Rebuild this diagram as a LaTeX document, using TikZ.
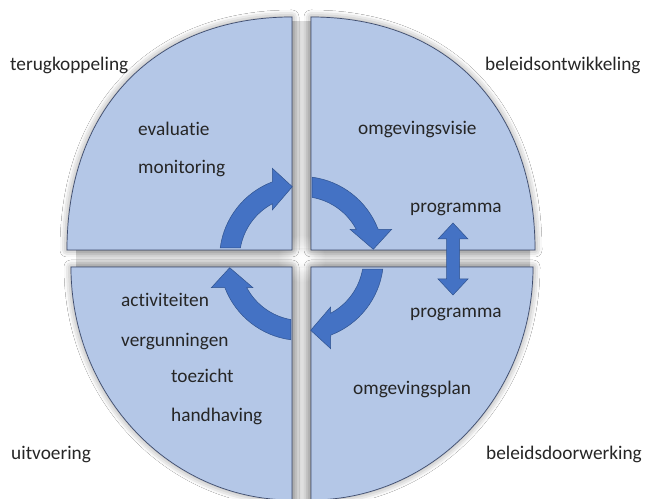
\documentclass[tikz,border=0pt]{standalone}
\usepackage{fontspec}
\setmainfont{Carlito}[Ligatures=NoCommon]
\usetikzlibrary{shadows.blur,fadings}
\tikzfading[name=glowfade, inner color=transparent!0, outer color=transparent!100]
\definecolor{quadfill}{HTML}{B4C7E7}
\definecolor{quadedge}{HTML}{3E4C6E}
\definecolor{arrfill}{HTML}{4472C4}
\definecolor{arredge}{HTML}{2F528F}
\definecolor{txt}{HTML}{262626}
\definecolor{gapdark}{HTML}{C6C6C6}
\definecolor{gaplight}{HTML}{E0E0E0}
\begin{document}
\begin{tikzpicture}[x=1pt,y=1pt,
 quad/.style={fill=quadfill, draw=quadedge, line width=0.7pt,
   blur shadow={shadow xshift=0pt, shadow yshift=0pt, shadow blur radius=7pt, shadow opacity=45}},
 cyc/.style={fill=arrfill, draw=arredge, line width=0.5pt},
 lbl/.style={anchor=base west, inner sep=0pt, text=txt, font=\fontsize{19.3}{23}\selectfont}]
\useasboundingbox (0,0) rectangle (645,498);
\fill[white] (0,0) rectangle (645,498);
% gaps between the quadrants
\shade[left color=gapdark, right color=gapdark, middle color=gaplight] (291,-5) rectangle (312,476);
\shade[top color=gapdark, bottom color=gapdark, middle color=gaplight] (76,230) rectangle (530,249);
\fill[white, path fading=glowfade] (301.5,239.5) circle (24pt);
\fill[white, path fading=glowfade] (301.5,239.5) circle (14pt);
% quadrants
\path[quad] (292,248) -- (292,481) .. controls (155,481) and (67,390) .. (67,248) -- cycle;
\path[quad] (311,248) -- (535,248) .. controls (535,390) and (448,481) .. (311,481) -- cycle;
\path[quad] (292,231) -- (71,231) arc[start angle=180,end angle=270,x radius=221pt,y radius=233pt] -- cycle;
\path[quad] (311,231) -- (311,-2) arc[start angle=270,end angle=360,x radius=222pt,y radius=233pt] -- cycle;
% cycle arrows
\coordinate (ctr) at (301.5,239.5);
\foreach \r in {0,-90,-180,-270}{
 \begin{scope}[shift={(ctr)}, rotate=\r]
  \path[cyc] (82.6:82) arc[start angle=82.6, end angle=20.9, radius=82pt]
    -- (90.2,29.2) -- (71.8,9.2) -- (48.5,29.2) -- (28.1:62)
    arc[start angle=28.1, end angle=80.2, radius=62pt] -- cycle;
 \end{scope}
}
% double arrow
\path[cyc] (453,275) -- (468,259) -- (459.5,259) -- (459.5,219) -- (468,219) -- (453,203)
  -- (438,219) -- (446.5,219) -- (446.5,259) -- (438,259) -- cycle;
% labels
\node[lbl] (terug) at (10,427.5) {terugkoppeling};
\node[lbl] (beleidsontw) at (485,427.5) {beleidsontwikkeling};
\node[lbl] (uitv) at (11,38.5) {uitvoering};
\node[lbl] (beleidsdoor) at (486,38.5) {beleidsdoorwerking};
\node[lbl] (eval) at (138,362) {evaluatie};
\node[lbl] (monit) at (138,324) {monitoring};
\node[lbl] (visie) at (358,363) {omgevingsvisie};
\node[lbl] (progA) at (410,285) {programma};
\node[lbl] (activ) at (121,191) {activiteiten};
\node[lbl] (vergun) at (121,151) {vergunningen};
\node[lbl] (toez) at (171,115) {toezicht};
\node[lbl] (handh) at (171,76) {handhaving};
\node[lbl] (progB) at (410,180) {programma};
\node[lbl] (plan) at (353,103) {omgevingsplan};
\end{tikzpicture}
\end{document}
